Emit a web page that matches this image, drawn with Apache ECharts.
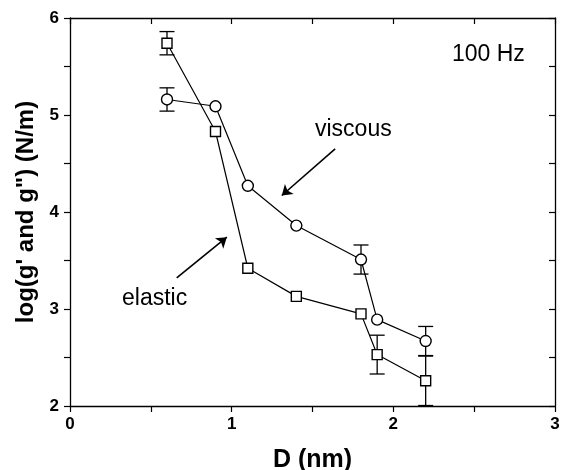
<!DOCTYPE html>
<html>
<head>
<meta charset="utf-8">
<script src="https://cdn.jsdelivr.net/npm/echarts@6/dist/echarts.min.js"></script>
<style>
  html, body { margin: 0; padding: 0; background: #fff; }
  #main { width: 561px; height: 470px; }
</style>
</head>
<body>
<div id="main"></div>
<script>
var dVals = [0.6, 0.9, 1.1, 1.4, 1.8, 1.9, 2.2];
var elastic = [5.74, 4.83, 3.42, 3.13, 2.95, 2.53, 2.26];
var viscous = [5.16, 5.09, 4.27, 3.86, 3.51, 2.89, 2.67];
var elasticErr = [0.12, 0, 0, 0, 0, 0.2, 0.255];
var viscousErr = [0.12, 0, 0, 0, 0.15, 0, 0.15];
var xTicks = [0, 1, 2, 3];
var yTicks = [2, 3, 4, 5, 6];

var myChart = echarts.init(document.getElementById('main'));
var font = 'Liberation Sans, Arial, sans-serif';

function pts(ys) {
  return dVals.map(function (d, i) { return [d, ys[i]]; });
}
function errs(ys, es) {
  var out = [];
  dVals.forEach(function (d, i) {
    if (es[i] > 0) out.push([d, ys[i] - es[i], ys[i] + es[i]]);
  });
  return out;
}
function errItem(params, api) {
  var lo = api.coord([api.value(0), api.value(1)]);
  var hi = api.coord([api.value(0), api.value(2)]);
  var w = 7.5;
  var st = { stroke: '#000', lineWidth: 1.3 };
  return {
    type: 'group',
    children: [
      { type: 'line', shape: { x1: lo[0], y1: lo[1], x2: hi[0], y2: hi[1] }, style: st },
      { type: 'line', shape: { x1: lo[0] - w, y1: lo[1], x2: lo[0] + w, y2: lo[1] }, style: st },
      { type: 'line', shape: { x1: hi[0] - w, y1: hi[1], x2: hi[0] + w, y2: hi[1] }, style: st }
    ]
  };
}
function intLabel(list) {
  return function (v) { return list.indexOf(Math.round(v * 100) / 100) >= 0 ? String(v) : ''; };
}

var axisLine = { show: true, onZero: false, lineStyle: { color: '#000', width: 1.3 } };
var tickOut = { show: true, inside: false, length: 6, lineStyle: { color: '#000', width: 1.2 } };
var tickIn = { show: true, inside: true, length: 6, lineStyle: { color: '#000', width: 1.2 } };
var arrowLine = {
  silent: true, symbol: ['none', 'arrow'], symbolSize: 10,
  lineStyle: { color: '#000', width: 1.6, type: 'solid' }, label: { show: false }
};

var option = {
  animation: false,
  grid: { left: 70, right: 6, top: 18, bottom: 64, outerBoundsMode: 'none', containLabel: false },
  xAxis: [{
    type: 'value', min: 0, max: 3, interval: 0.5, position: 'bottom',
    axisLine: axisLine, axisTick: tickOut,
    axisLabel: { formatter: intLabel(xTicks), color: '#000', fontFamily: font, fontWeight: 'bold', fontSize: 17, margin: 10, showMinLabel: true, showMaxLabel: true },
    splitLine: { show: false },
    name: 'D (nm)', nameLocation: 'middle', nameGap: 42,
    nameTextStyle: { color: '#000', fontFamily: font, fontWeight: 'bold', fontSize: 25 }
  }, {
    type: 'value', min: 0, max: 3, interval: 0.5, position: 'top',
    axisLine: axisLine, axisTick: tickIn,
    axisLabel: { show: false },
    splitLine: { show: false }
  }],
  yAxis: [{
    type: 'value', min: 2, max: 6, interval: 0.5, position: 'left',
    axisLine: axisLine, axisTick: tickOut,
    axisLabel: { formatter: intLabel(yTicks), color: '#000', fontFamily: font, fontWeight: 'bold', fontSize: 17, margin: 11, showMinLabel: true, showMaxLabel: true },
    splitLine: { show: false },
    name: 'log(g\' and g") (N/m)', nameLocation: 'middle', nameGap: 31,
    nameTextStyle: { color: '#000', fontFamily: font, fontWeight: 'bold', fontSize: 24 }
  }, {
    type: 'value', min: 2, max: 6, interval: 0.5, position: 'right',
    axisLine: axisLine, axisTick: tickIn,
    axisLabel: { show: false },
    splitLine: { show: false }
  }],
  series: [{
    name: 'elastic', type: 'line', data: pts(elastic),
    symbol: 'rect', symbolSize: 10,
    itemStyle: { color: '#fff', borderColor: '#000', borderWidth: 1.4 },
    lineStyle: { color: '#000', width: 1.2 },
    z: 3,
    markLine: Object.assign({ data: [[{ coord: [0.66, 3.32] }, { coord: [0.97, 3.74] }]] }, arrowLine)
  }, {
    name: 'viscous', type: 'line', data: pts(viscous),
    symbol: 'circle', symbolSize: 11,
    itemStyle: { color: '#fff', borderColor: '#000', borderWidth: 1.4 },
    lineStyle: { color: '#000', width: 1.2 },
    z: 3,
    markLine: Object.assign({ data: [[{ coord: [1.64, 4.65] }, { coord: [1.31, 4.17] }]] }, arrowLine)
  }, {
    type: 'custom', data: errs(elastic, elasticErr), renderItem: errItem, z: 2
  }, {
    type: 'custom', data: errs(viscous, viscousErr), renderItem: errItem, z: 2
  }],
  graphic: [
    { type: 'text', left: 452, top: 43, style: { text: '100 Hz', fill: '#000', font: '23px ' + font } },
    { type: 'text', left: 315, top: 118, style: { text: 'viscous', fill: '#000', font: '23px ' + font } },
    { type: 'text', left: 122, top: 287, style: { text: 'elastic', fill: '#000', font: '23px ' + font } }
  ]
};

myChart.setOption(option);
</script>
</body>
</html>
